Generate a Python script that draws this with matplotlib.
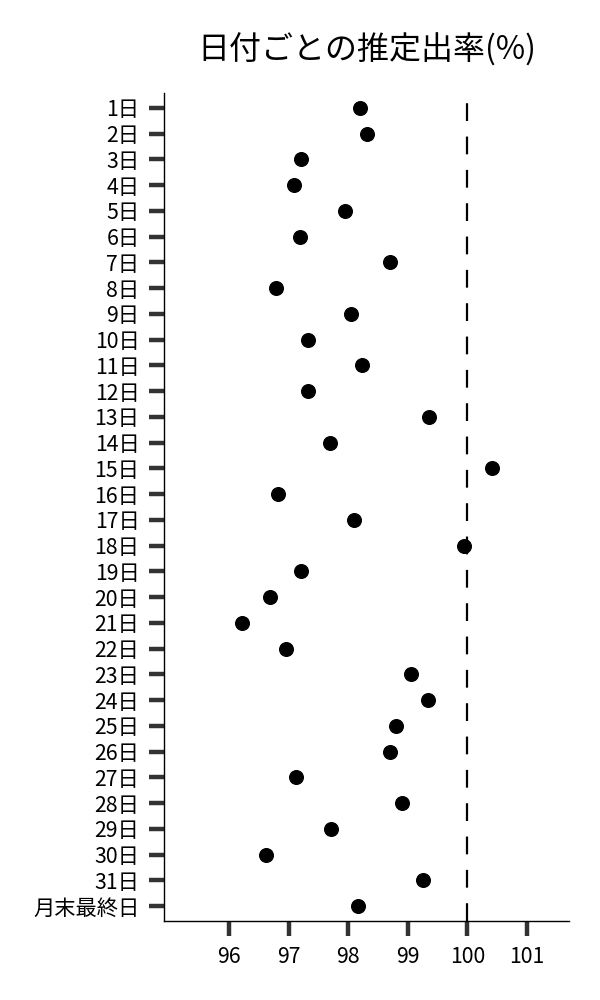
import matplotlib.pyplot as plt

plt.rcParams['font.family'] = ['Noto Sans CJK JP', 'DejaVu Sans']

# 日付ラベルと推定出率
days = [f'{d}日' for d in range(1, 32)] + ['月末最終日']
rates = [98.19, 98.31, 97.20, 97.09, 97.95, 97.19, 98.71, 96.79, 98.05, 97.32,
         98.24, 97.32, 99.36, 97.70, 100.41, 96.82, 98.10, 99.95, 97.21, 96.69,
         96.21, 96.95, 99.05, 99.34, 98.81, 98.70, 97.13, 98.91, 97.71, 96.62,
         99.25, 98.17]
xticks = [96, 97, 98, 99, 100, 101]
ref_rate = 100

fig = plt.figure(figsize=(6, 10), dpi=100)
ax = fig.add_axes([0.274, 0.079, 0.675, 0.828])

pos = list(range(len(days)))
ax.plot(rates, pos, 'o', color='black', markersize=9.8, zorder=3)
ax.axvline(ref_rate, color='black', linewidth=1.6, dashes=(8, 7.0))

ax.set_yticks(pos)
ax.set_yticklabels(days, fontsize=15.3)
ax.set_ylim(len(days) - 1 + 0.58, -0.58)
ax.set_xticks(xticks)
ax.set_xticklabels([str(v) for v in xticks], fontsize=15.3)
ax.set_xlim(94.913, 101.715)

ax.spines['top'].set_visible(False)
ax.spines['right'].set_visible(False)
for s in ['left', 'bottom']:
    ax.spines[s].set_linewidth(1.0)
    ax.spines[s].set_color('black')

ax.tick_params(axis='both', length=11, width=3.2, color='#333333', pad=7)

ax.set_title('日付ごとの推定出率(%)', fontsize=23, pad=24)

fig.savefig('out.png')
